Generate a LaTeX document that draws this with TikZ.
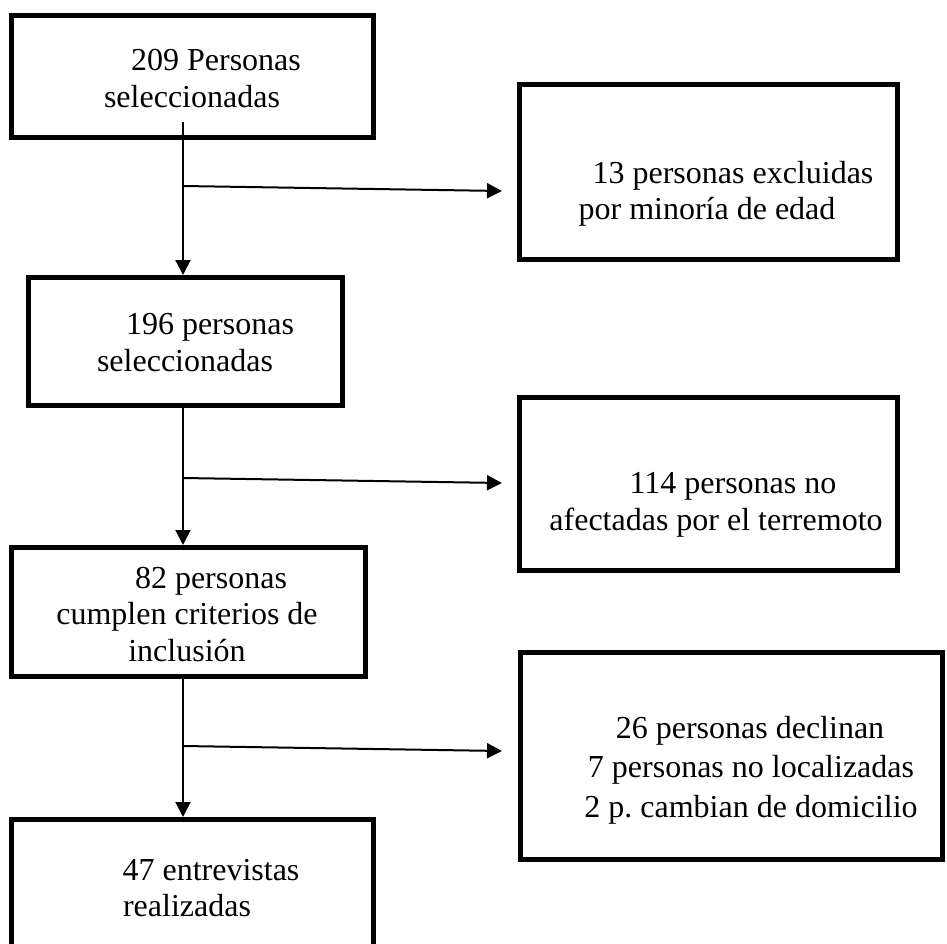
\documentclass[tikz,border=0pt]{standalone}
\usepackage{fontspec}
\setmainfont{Liberation Serif}
\usetikzlibrary{arrows.meta}
\begin{document}
\begin{tikzpicture}[x=1pt,y=-1pt,
  box/.style={draw=black,line width=5pt,inner sep=0pt,rectangle},
  txt/.style={inner sep=0pt,anchor=base,font=\fontsize{32}{37}\selectfont},
  conn/.style={draw=black,line width=2pt,-{Triangle[length=15pt,width=15pt]}}]
\useasboundingbox (0,0) rectangle (947,943);
% left column boxes
\node[box,minimum width=362pt,minimum height=122pt] (b1) at (192.5,76.5) {};
\node[box,minimum width=314pt,minimum height=128pt] (b2) at (185.5,341.5) {};
\node[box,minimum width=354pt,minimum height=129pt] (b3) at (188.5,612) {};
\node[box,minimum width=362pt,minimum height=141pt] (b4) at (192.5,890) {};
% right column boxes
\node[box,minimum width=378pt,minimum height=175pt] (r1) at (708.5,172) {};
\node[box,minimum width=378pt,minimum height=173pt] (r2) at (708.5,484) {};
\node[box,minimum width=422pt,minimum height=207pt] (r3) at (731.5,756) {};
% texts
\node[txt] (t1a) at (216,70) {209 Personas};
\node[txt] (t1b) at (192,107) {seleccionadas};
\node[txt] (t2a) at (210,334) {196 personas};
\node[txt] (t2b) at (185,371) {seleccionadas};
\node[txt] (t3a) at (211,588) {82 personas};
\node[txt] (t3b) at (187,624) {cumplen criterios de};
\node[txt] (t3c) at (187,661) {inclusión};
\node[txt] (t4a) at (211,880) {47 entrevistas};
\node[txt] (t4b) at (187,916) {realizadas};
\node[txt] (u1a) at (733,183) {13 personas excluidas};
\node[txt] (u1b) at (707,219) {por minoría de edad};
\node[txt] (u2a) at (733,493) {114 personas no};
\node[txt] (u2b) at (716,530) {afectadas por el terremoto};
\node[txt] (u3a) at (750,738) {26 personas declinan};
\node[txt] (u3b) at (751,777) {7 personas no localizadas};
\node[txt] (u3c) at (751,817) {2 p.\ cambian de domicilio};
% connector points
\coordinate (s1) at (183,122);
\coordinate (s2) at (183,408);
\coordinate (s3) at (183,679);
\coordinate (k1) at (183,186);
\coordinate (k2) at (183,478);
\coordinate (k3) at (183,746);
\coordinate (e1) at (502,191);
\coordinate (e2) at (502,483);
\coordinate (e3) at (502,751);
% connectors
\draw[conn] (s1) -- (s1 |- b2.north);
\draw[conn] (s2) -- (s2 |- b3.north);
\draw[conn] (s3) -- (s3 |- b4.north);
\draw[conn] (k1) -- (e1);
\draw[conn] (k2) -- (e2);
\draw[conn] (k3) -- (e3);
\end{tikzpicture}
\end{document}
